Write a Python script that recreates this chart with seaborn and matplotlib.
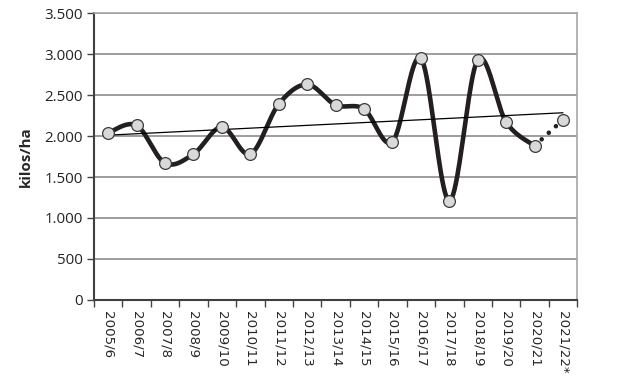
import numpy as np
import pandas as pd
import matplotlib
matplotlib.use('Agg')
import matplotlib.pyplot as plt
from matplotlib.ticker import FixedLocator, FuncFormatter
import seaborn as sns

seasons = ['2005/6', '2006/7', '2007/8', '2008/9', '2009/10', '2010/11',
           '2011/12', '2012/13', '2013/14', '2014/15', '2015/16', '2016/17',
           '2017/18', '2018/19', '2019/20', '2020/21', '2021/22*']
yields = [2040, 2130, 1670, 1780, 2110, 1780, 2390, 2630, 2380, 2330,
          1930, 2950, 1210, 2930, 2170, 1880, 2200]

df = pd.DataFrame({'season': seasons, 'kg': yields})
df['x'] = np.arange(len(df))

sns.set_style('white')
plt.rcParams['font.family'] = ['Open Sans', 'DejaVu Sans']


def smooth(xs, ys, n=40):
    # excel-like smoothed line (catmull-rom bezier)
    px = np.concatenate([[xs[0]], xs, [xs[-1]]])
    py = np.concatenate([[ys[0]], ys, [ys[-1]]])
    outx, outy = [], []
    t = np.linspace(0, 1, n)
    for i in range(1, len(px) - 2):
        p0 = np.array([px[i], py[i]])
        p3 = np.array([px[i + 1], py[i + 1]])
        b1 = p0 + (p3 - np.array([px[i - 1], py[i - 1]])) / 6
        b2 = p3 - (np.array([px[i + 2], py[i + 2]]) - p0) / 6
        pts = ((1 - t) ** 3)[:, None] * p0 + (3 * (1 - t) ** 2 * t)[:, None] * b1 \
            + (3 * (1 - t) * t ** 2)[:, None] * b2 + (t ** 3)[:, None] * p3
        outx.extend(pts[:, 0])
        outy.extend(pts[:, 1])
    return np.array(outx), np.array(outy)


fig = plt.figure(figsize=(6.18, 3.87), dpi=100)
ax = fig.add_axes([0.152, 0.225, 0.782, 0.741])

main = df.iloc[:-1]
sx, sy = smooth(main['x'].values.astype(float), main['kg'].values.astype(float))
sns.lineplot(x=sx, y=sy, ax=ax, color='#231f20', lw=3.3, sort=False,
             solid_capstyle='round', zorder=3)

last = df.iloc[-2:]
ax.plot(last['x'], last['kg'], color='#231f20', lw=3.3,
        linestyle=(0, (0.01, 2.1)), dash_capstyle='round', zorder=3)

sns.regplot(data=df, x='x', y='kg', ax=ax, scatter=False, ci=None,
            line_kws={'color': 'black', 'lw': 0.9, 'zorder': 4})

sns.scatterplot(data=df, x='x', y='kg', ax=ax, s=72, color='#d9d9d9',
                edgecolor='#3a3a3a', linewidth=0.9, zorder=5)

ax.set_xlim(-0.5, len(df) - 0.5)
ax.set_ylim(0, 3500)
ax.set_yticks(np.arange(0, 3501, 500))
ax.yaxis.set_major_formatter(FuncFormatter(lambda v, p: f'{int(v):,}'.replace(',', '.')))
ax.yaxis.grid(True, color='#8c8c8c', lw=1.2)
ax.set_axisbelow(True)

ax.set_xticks(df['x'])
ax.set_xticklabels(seasons, rotation=270, fontsize=9.6, family='DejaVu Sans',
                   va='top', ha='center')
ax.xaxis.set_minor_locator(FixedLocator(np.arange(-0.5, len(df), 1)))
ax.tick_params(axis='x', which='major', length=0, pad=8)
ax.tick_params(axis='x', which='minor', length=5, width=1, color='#444444',
               direction='out', bottom=True)
ax.tick_params(axis='y', length=5, width=1, color='#444444', direction='out',
               left=True, labelsize=10.8, pad=3)
for lab in ax.get_yticklabels():
    lab.set_color('#222222')

ax.set_xlabel('')
ax.set_ylabel('kilos/ha', fontsize=10.8, fontweight='bold', labelpad=8)

for side in ['top', 'right']:
    ax.spines[side].set_color('#a6a6a6')
    ax.spines[side].set_linewidth(1.2)
ax.spines['left'].set_color('#404040')
ax.spines['left'].set_linewidth(1.5)
ax.spines['bottom'].set_color('#404040')
ax.spines['bottom'].set_linewidth(1.5)

fig.savefig('out.png', dpi=100)
